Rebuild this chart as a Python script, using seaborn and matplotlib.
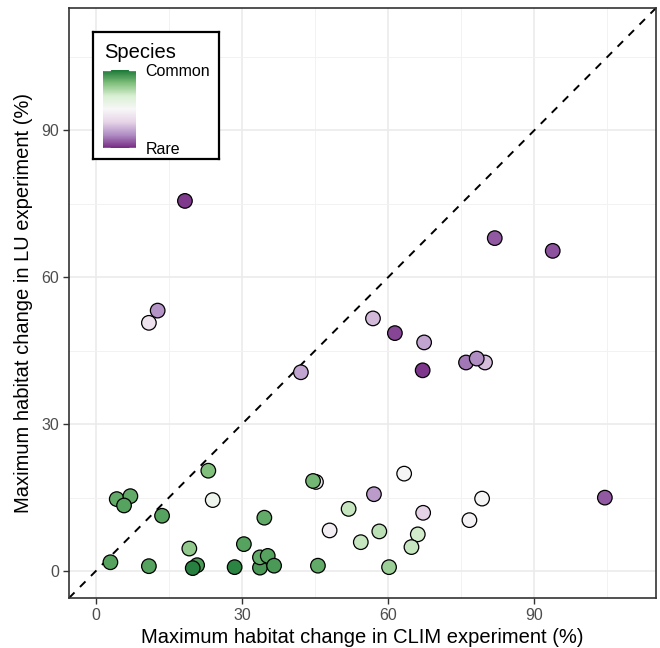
import numpy as np
import pandas as pd
import seaborn as sns
import matplotlib.pyplot as plt
from matplotlib.colors import LinearSegmentedColormap, Normalize
from matplotlib.cm import ScalarMappable

# data (x = CLIM change, y = LU change, commonness 0 = rare .. 1 = common)
clim = [10.9, 12.7, 18.3, 42.1, 56.9, 61.4, 67.4, 67.1, 81.9, 93.8, 76.0, 79.9, 78.2, 104.5,
        45.2, 57.1, 67.2, 48.0, 63.3, 79.3, 76.7,
        23.1, 4.3, 7.1, 5.8, 24.0, 13.6, 19.2, 30.4, 34.6, 3.0, 10.9, 20.8, 19.9, 28.5, 33.7,
        33.7, 35.3, 36.6, 44.6, 45.6, 51.9, 58.2, 54.4, 66.1, 64.8, 60.2]
lu = [50.7, 53.2, 75.6, 40.6, 51.6, 48.6, 46.7, 41.0, 68.0, 65.4, 42.6, 42.6, 43.4, 15.0,
      18.2, 15.7, 11.9, 8.3, 19.9, 14.8, 10.4,
      20.5, 14.7, 15.3, 13.4, 14.5, 11.3, 4.6, 5.5, 10.9, 1.8, 1.0, 1.2, 0.6, 0.8, 0.7,
      2.8, 3.1, 1.1, 18.4, 1.1, 12.7, 8.1, 5.9, 7.5, 4.9, 0.8]
commonness = [0.40, 0.18, 0.03, 0.22, 0.27, 0.05, 0.22, 0.02, 0.08, 0.07, 0.13, 0.28, 0.17, 0.08,
              0.40, 0.20, 0.33, 0.46, 0.49, 0.49, 0.48,
              0.83, 0.88, 0.88, 0.90, 0.55, 0.90, 0.80, 0.90, 0.88, 0.90, 0.90, 0.92, 0.98, 0.97, 0.92,
              0.88, 0.90, 0.92, 0.85, 0.88, 0.70, 0.72, 0.70, 0.68, 0.70, 0.78]

TICKS = [0, 30, 60, 90]
TICK_LABELS = ['0', '30', '60', '90']

df = pd.DataFrame({'clim': clim, 'lu': lu, 'common': commonness})

prgn = LinearSegmentedColormap.from_list(
    'prgn7', ['#762a83', '#af8dc3', '#e7d4e8', '#f7f7f7', '#d9f0d3', '#7fbf7b', '#1b7837'])

sns.set_theme(style='white')
plt.rcParams['font.family'] = ['Liberation Sans', 'DejaVu Sans']
plt.rcParams['text.color'] = 'black'

fig = plt.figure(figsize=(6.6, 6.48), dpi=100)
ax = fig.add_axes([69 / 660, 1 - 598 / 648, 587 / 660, 590 / 648])

ax.axline((0, 0), slope=1, ls=(0, (4, 4)), color='black', lw=1.4, zorder=1)
sns.scatterplot(data=df, x='clim', y='lu', hue='common', palette=prgn, hue_norm=(0, 1),
                s=110, edgecolor='black', linewidth=0.9, legend=False, ax=ax, zorder=3)

ax.set_xlim(-5.5, 115)
ax.set_ylim(-5.5, 115)
ax.set_xticks(TICKS)
ax.set_xticklabels(TICK_LABELS)
ax.set_yticks(TICKS)
ax.set_yticklabels(TICK_LABELS)
ax.set_xticks([15, 45, 75, 105], minor=True)
ax.set_yticks([15, 45, 75, 105], minor=True)
ax.grid(True, which='major', color='#ebebeb', lw=1.2, zorder=0)
ax.grid(True, which='minor', color='#f2f2f2', lw=0.7, zorder=0)
ax.set_axisbelow(True)
ax.tick_params(which='major', direction='out', length=4, width=1, color='#333333',
               labelsize=11.5, labelcolor='#4d4d4d', bottom=True, left=True, pad=3)
ax.tick_params(which='minor', length=0)
for sp in ax.spines.values():
    sp.set_color('#333333')
    sp.set_linewidth(1.2)
ax.set_xlabel('Maximum habitat change in CLIM experiment (%)', fontsize=14.5, color='black', labelpad=4)
ax.set_ylabel('Maximum habitat change in LU experiment (%)', fontsize=14.5, color='black', labelpad=6)

# legend box with colour bar
lax = fig.add_axes([93 / 660, 1 - 159 / 648, 126 / 660, 127 / 648])
lax.set_xticks([])
lax.set_yticks([])
for sp in lax.spines.values():
    sp.set_color('black')
    sp.set_linewidth(1.6)
lax.text(0.085, 0.84, 'Species', fontsize=14.5, color='black', transform=lax.transAxes,
         va='center', ha='left')

cax = fig.add_axes([103 / 660, 1 - 148 / 648, 33 / 660, 78 / 648])
cb = fig.colorbar(ScalarMappable(norm=Normalize(0, 1), cmap=prgn), cax=cax, ticks=[0, 1])
cb.outline.set_visible(False)
cb.set_ticklabels(['Rare', 'Common'])
cax.tick_params(length=0, labelsize=11.5, labelcolor='black', pad=7)
for v in [0.005, 0.995]:
    cax.plot([0, 0.2], [v, v], color='white', lw=1, transform=cax.transAxes, clip_on=False)
    cax.plot([0.8, 1], [v, v], color='white', lw=1, transform=cax.transAxes, clip_on=False)

fig.savefig('out.png', dpi=100)
